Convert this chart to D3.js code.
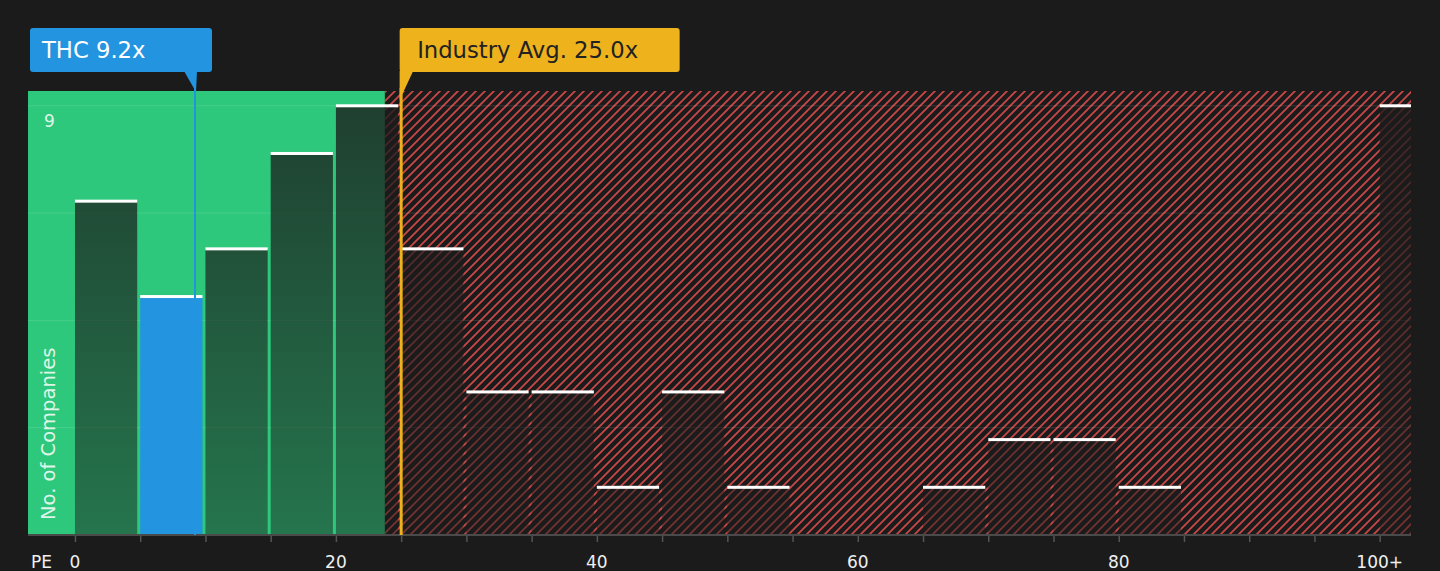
<html>
<head>
<meta charset="utf-8">
<style>
  html, body { margin: 0; padding: 0; background-color: #1b1b1b; }
  svg { display: block; font-family: 'DejaVu Sans', sans-serif; }
  .tick-label { fill: #f0f0f0; font-size: 17px; }
</style>
<script src="https://d3js.org/d3.v7.min.js"></script>
</head>
<body>
<svg width="1440" height="571"></svg>
<script>
// histogram of PE ratios, bins of 5, last one is 100+
var binStarts = [0, 5, 10, 15, 20, 25, 30, 35, 40, 45, 50, 55, 60, 65, 70, 75, 80, 85, 90, 95, 100];
var counts = [7, 5, 6, 8, 9, 6, 3, 3, 1, 3, 1, 0, 0, 1, 2, 2, 1, 0, 0, 0, 9];
var tickValues = [0, 20, 40, 60, 80, 100];
var tickLabels = ['0', '20', '40', '60', '80', '100+'];
var gridValues = [2.25, 4.5, 6.75, 9];
var yLabelValues = [9];
var companyName = 'THC';
var companyPE = 9.2;
var industryPE = 25.0;
var fairUpper = 23.75; // end of green zone

var plotLeft = 28, plotRight = 1411, plotTop = 91, plotBottom = 535;

var x = d3.scaleLinear().domain([-3.6, 102.4]).range([plotLeft, plotRight]);
var y = d3.scaleLinear().domain([0, 9.31]).range([plotBottom, plotTop]);

var svg = d3.select('svg');
var defs = svg.append('defs');

var hatch = defs.append('pattern')
    .attr('id', 'hatch')
    .attr('patternUnits', 'userSpaceOnUse')
    .attr('width', 9).attr('height', 9);
hatch.append('path')
    .attr('d', 'M-2,2 l4,-4 M0,9 l9,-9 M7,11 l4,-4')
    .attr('stroke', '#cc4848')
    .attr('stroke-width', 1.7);

var shade = defs.append('linearGradient')
    .attr('id', 'shade')
    .attr('gradientUnits', 'userSpaceOnUse')
    .attr('x1', 0).attr('x2', 0).attr('y1', plotTop).attr('y2', plotBottom);
shade.append('stop').attr('offset', 0).attr('stop-color', '#1b1b1b').attr('stop-opacity', 0.8);
shade.append('stop').attr('offset', 1).attr('stop-color', '#1b1b1b').attr('stop-opacity', 0.48);

defs.append('clipPath').attr('id', 'plotclip')
    .append('rect').attr('x', plotLeft).attr('y', plotTop)
    .attr('width', plotRight - plotLeft).attr('height', plotBottom - plotTop);

// zones
svg.append('rect')
    .attr('x', plotLeft).attr('y', plotTop)
    .attr('width', x(fairUpper) - plotLeft).attr('height', plotBottom - plotTop)
    .attr('fill', '#2ec87c');
svg.append('rect')
    .attr('x', x(fairUpper)).attr('y', plotTop)
    .attr('width', plotRight - x(fairUpper)).attr('height', plotBottom - plotTop)
    .attr('fill', 'url(#hatch)');

// gridlines
svg.append('g').selectAll('line')
    .data(gridValues).enter().append('line')
    .attr('x1', plotLeft).attr('x2', plotRight)
    .attr('y1', function (d) { return y(d); })
    .attr('y2', function (d) { return y(d); })
    .attr('stroke', 'rgba(255,255,255,0.12)')
    .attr('stroke-width', 1);

// bars
var bars = svg.append('g').attr('clip-path', 'url(#plotclip)');
var companyBin = Math.floor(companyPE / 5);
bars.selectAll('rect.bar')
    .data(counts).enter().append('rect')
    .attr('class', 'bar')
    .attr('x', function (d, i) { return x(binStarts[i]); })
    .attr('width', function (d, i) { return x(binStarts[i] + 5) - x(binStarts[i]) - 3; })
    .attr('y', function (d) { return y(d); })
    .attr('height', function (d) { return plotBottom - y(d); })
    .attr('fill', function (d, i) { return i === companyBin ? '#2394e0' : 'url(#shade)'; });
bars.selectAll('rect.cap')
    .data(counts).enter().append('rect')
    .attr('class', 'cap')
    .attr('x', function (d, i) { return x(binStarts[i]); })
    .attr('width', function (d, i) { return x(binStarts[i] + 5) - x(binStarts[i]) - 3; })
    .attr('y', function (d) { return y(d) - 1.5; })
    .attr('height', function (d) { return d > 0 ? 3 : 0; })
    .attr('fill', '#ffffff');

// x axis
var xAxis = d3.axisBottom(x)
    .tickValues(d3.range(0, 101, 5))
    .tickSize(7)
    .tickFormat('');
var xg = svg.append('g')
    .attr('transform', 'translate(0,' + plotBottom + ')')
    .call(xAxis);
xg.select('.domain').remove();
xg.selectAll('.tick line').attr('stroke', '#555').attr('stroke-width', 1.5);
svg.append('line')
    .attr('x1', plotLeft).attr('x2', plotRight)
    .attr('y1', plotBottom).attr('y2', plotBottom)
    .attr('stroke', '#4a4a4a').attr('stroke-width', 2);

svg.append('g').selectAll('text')
    .data(tickValues).enter().append('text')
    .attr('class', 'tick-label')
    .attr('x', function (d) { return x(d); })
    .attr('y', 568)
    .attr('text-anchor', 'middle')
    .text(function (d, i) { return tickLabels[i]; });
svg.append('text')
    .attr('class', 'tick-label')
    .attr('x', 31).attr('y', 568)
    .text('PE');

// y labels
svg.append('g').selectAll('text')
    .data(yLabelValues).enter().append('text')
    .attr('x', 44)
    .attr('y', function (d) { return y(d) + 21; })
    .attr('fill', 'rgba(255,255,255,0.85)')
    .attr('font-size', 17)
    .text(function (d) { return d; });
svg.append('text')
    .attr('transform', 'translate(55,520) rotate(-90)')
    .attr('fill', 'rgba(255,255,255,0.85)')
    .attr('font-size', 19.5)
    .text('No. of Companies');

// company marker
var cx = x(companyPE);
svg.append('line')
    .attr('x1', cx).attr('x2', cx).attr('y1', 88).attr('y2', plotBottom)
    .attr('stroke', '#2394e0').attr('stroke-width', 2);
svg.append('path')
    .attr('d', 'M' + (cx - 11) + ',71 L' + (cx + 2) + ',71 L' + (cx + 1) + ',92 Z')
    .attr('fill', '#2394e0');
svg.append('rect')
    .attr('x', 30).attr('y', 28).attr('width', 182).attr('height', 44).attr('rx', 3)
    .attr('fill', '#2394e0');
svg.append('text')
    .attr('x', 42).attr('y', 58)
    .attr('fill', '#ffffff').attr('font-size', 22.7)
    .text(companyName + ' ' + companyPE.toFixed(1) + 'x');

// industry marker
var ix = x(industryPE);
svg.append('line')
    .attr('x1', ix).attr('x2', ix).attr('y1', 88).attr('y2', plotBottom)
    .attr('stroke', '#eeb21d').attr('stroke-width', 3);
svg.append('path')
    .attr('d', 'M' + (ix - 1.5) + ',71 L' + (ix + 12) + ',71 L' + (ix - 1.5) + ',100 Z')
    .attr('fill', '#eeb21d');
svg.append('rect')
    .attr('x', ix - 1.5).attr('y', 28).attr('width', 280).attr('height', 44).attr('rx', 3)
    .attr('fill', '#eeb21d');
svg.append('text')
    .attr('x', ix + 16).attr('y', 58)
    .attr('fill', '#222222').attr('font-size', 22.7)
    .text('Industry Avg. ' + industryPE.toFixed(1) + 'x');
</script>
</body>
</html>
